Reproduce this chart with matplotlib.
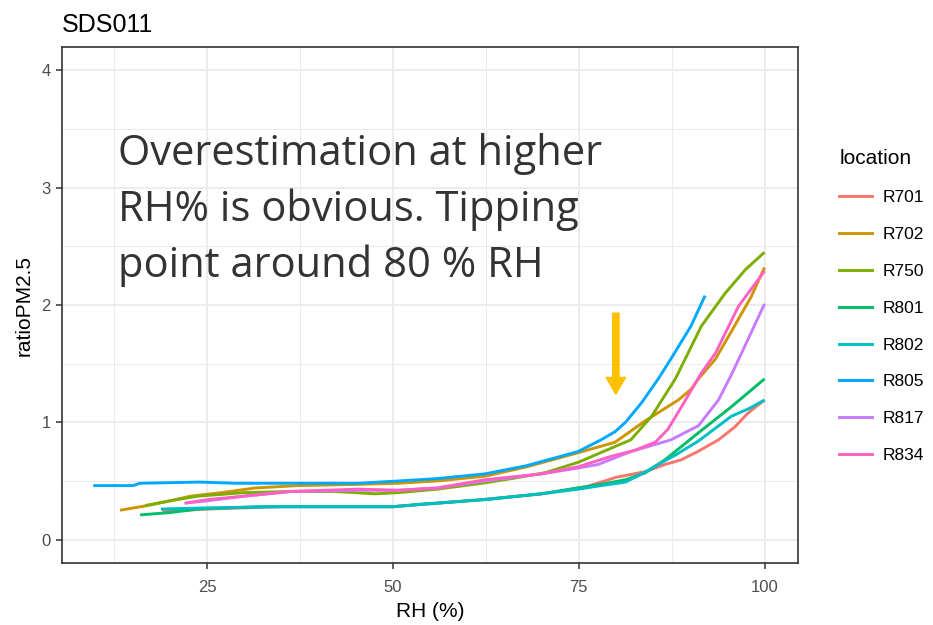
import matplotlib
matplotlib.use("Agg")
import matplotlib.pyplot as plt
from matplotlib.lines import Line2D

# ratio PM2.5 (SDS011 / reference) vs relative humidity, per location
locations = ["R701", "R702", "R750", "R801", "R802", "R805", "R817", "R834"]
colors = ["#F8766D", "#CD9600", "#7CAE00", "#00BE67",
          "#00BFC4", "#00A9FF", "#C77CFF", "#FF61C3"]

rh_701 = [19, 25, 35, 50, 62, 70, 76, 80, 84, 86.6, 88.8, 91, 93.8, 96, 97.8, 100]
ratio_701 = [0.24, 0.26, 0.28, 0.28, 0.34, 0.39, 0.45, 0.53, 0.58, 0.64, 0.68, 0.75, 0.85, 0.96, 1.08, 1.19]

rh_702 = [13.3, 17, 20, 22.8, 27, 31.5, 37.2, 45, 50.7, 56, 62.4, 68, 74.9, 79.9, 83.9,
          88.4, 90.1, 91.1, 93.4, 95.5, 98.2, 100]
ratio_702 = [0.25, 0.29, 0.33, 0.37, 0.40, 0.44, 0.46, 0.47, 0.48, 0.50, 0.54, 0.62, 0.74, 0.83,
             1.01, 1.19, 1.28, 1.37, 1.54, 1.77, 2.07, 2.32]

rh_750 = [16.7, 20, 23.8, 30, 36.3, 42, 45, 47.6, 50.7, 56, 62, 66, 70.5, 75, 79.4, 82,
          84.8, 88, 91.5, 94.7, 97.4, 100]
ratio_750 = [0.29, 0.33, 0.37, 0.40, 0.41, 0.41, 0.40, 0.39, 0.40, 0.43, 0.48, 0.52, 0.57, 0.66,
             0.78, 0.85, 1.05, 1.37, 1.82, 2.10, 2.30, 2.45]

rh_801 = [16, 20, 23.8, 31.9, 40, 50, 53.4, 62.4, 70, 74.9, 78, 81.3, 84, 86.6, 91.1,
          95.5, 100]
ratio_801 = [0.21, 0.23, 0.26, 0.28, 0.28, 0.28, 0.30, 0.34, 0.39, 0.44, 0.47, 0.51, 0.57, 0.68,
             0.91, 1.13, 1.37]

rh_802 = [18.8, 25, 35, 50, 62, 70, 75, 78, 81.3, 83.5, 85.7, 88, 91.1, 95.5, 98, 100]
ratio_802 = [0.26, 0.27, 0.28, 0.28, 0.34, 0.39, 0.43, 0.46, 0.49, 0.56, 0.64, 0.72, 0.84, 1.05,
             1.12, 1.19]

rh_805 = [9.7, 15, 16, 24, 28.8, 35, 45.3, 51, 56, 62.4, 68, 74.9, 78, 79.9, 81.3, 83.5,
          85.7, 87.4, 90.1, 92]
ratio_805 = [0.46, 0.46, 0.48, 0.49, 0.48, 0.48, 0.48, 0.50, 0.52, 0.56, 0.63, 0.75, 0.85, 0.92,
             1.00, 1.17, 1.37, 1.54, 1.82, 2.08]

rh_817 = [22, 25, 30, 36.3, 45, 50.7, 56, 62.4, 70, 74.9, 77.6, 82, 87.4, 91.1, 93.8,
          95.5, 97.8, 100]
ratio_817 = [0.31, 0.33, 0.37, 0.41, 0.42, 0.42, 0.44, 0.50, 0.56, 0.61, 0.64, 0.75, 0.85, 0.97,
             1.19, 1.40, 1.71, 2.01]

rh_834 = [22, 25, 30, 36.3, 45.3, 50.7, 56, 62.4, 70, 74.9, 79.4, 82.5, 85.3, 87, 89,
          91.5, 93.4, 96.5, 100]
ratio_834 = [0.31, 0.34, 0.37, 0.41, 0.43, 0.42, 0.44, 0.51, 0.56, 0.62, 0.71, 0.76, 0.83, 0.94,
             1.15, 1.42, 1.59, 1.99, 2.29]

rh_data = [rh_701, rh_702, rh_750, rh_801, rh_802, rh_805, rh_817, rh_834]
ratio_data = [ratio_701, ratio_702, ratio_750, ratio_801, ratio_802, ratio_805, ratio_817, ratio_834]

note = "Overestimation at higher\nRH% is obvious. Tipping\npoint around 80 % RH"

plt.rcParams['font.family'] = ['Liberation Sans', 'DejaVu Sans']

fig = plt.figure(figsize=(9.33, 6.25), dpi=100)
ax = fig.add_axes([0.0665, 0.0992, 0.7888, 0.8256])

# ggplot theme_bw look
ax.set_xlim(5.5, 104.5)
ax.set_ylim(-0.2, 4.2)
ax.set_xticks([25, 50, 75, 100])
ax.set_yticks([0, 1, 2, 3, 4])
ax.set_xticks([12.5, 37.5, 62.5, 87.5], minor=True)
ax.set_yticks([0.5, 1.5, 2.5, 3.5], minor=True)
ax.grid(True, which='major', color='#EBEBEB', linewidth=1.3)
ax.grid(True, which='minor', color='#EBEBEB', linewidth=0.7)
ax.set_axisbelow(True)
for s in ax.spines.values():
    s.set_color('#333333')
    s.set_linewidth(1.2)
ax.tick_params(which='major', length=4, width=1.1, color='#333333',
               labelcolor='#4D4D4D', labelsize=12, pad=4)
ax.tick_params(axis='x', which='major', pad=8)
ax.tick_params(which='minor', length=0)

for name, col, xs, ys in zip(locations, colors, rh_data, ratio_data):
    ax.plot(xs, ys, color=col, linewidth=2.1, label=name, solid_capstyle='butt')

ax.set_xlabel('RH (%)', fontsize=15, labelpad=5)
ax.set_ylabel('ratioPM2.5', fontsize=15, labelpad=6)
ax.set_title('SDS011', loc='left', fontsize=18, pad=11)

ax.text(13, 3.47, note, fontsize=30, color='#333333', va='top', ha='left',
        family=['Open Sans', 'DejaVu Sans'], linespacing=1.42)

ax.annotate('', xy=(80, 1.24), xytext=(80, 1.93),
            arrowprops=dict(arrowstyle='simple,head_width=1.4,head_length=1.2,tail_width=0.45',
                            color='#FFC000', shrinkA=0, shrinkB=0))

handles = [Line2D([0], [0], color=c, linewidth=2.1) for c in colors]
leg = fig.legend(handles, locations, title='location', loc='upper left',
                 bbox_to_anchor=(0.883, 0.786), frameon=False, fontsize=12.5,
                 title_fontsize=15, handlelength=1.9, handletextpad=0.6,
                 labelspacing=1.25, alignment='left')

fig.savefig('out.png', dpi=100)
